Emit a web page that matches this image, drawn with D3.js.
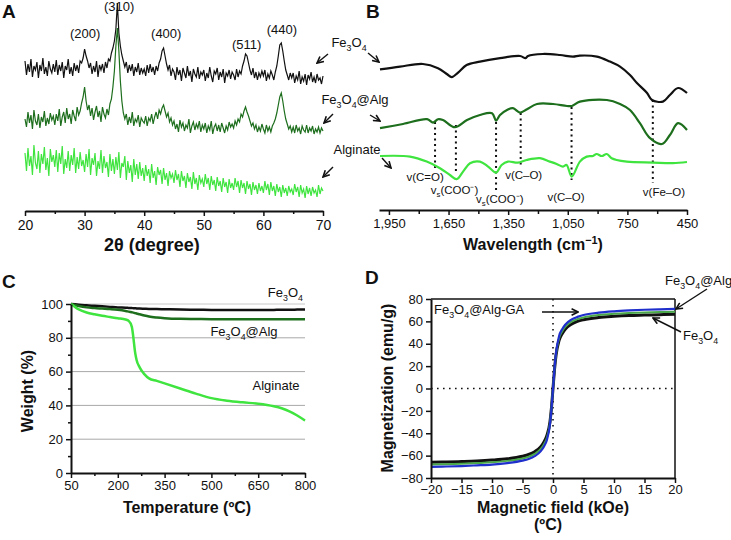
<!DOCTYPE html>
<html><head><meta charset="utf-8">
<script src="https://cdn.jsdelivr.net/npm/d3@7"></script>
<style>body{margin:0;background:#fff} svg{display:block} text{font-family:"Liberation Sans",Arial,sans-serif;fill:#111}</style>
</head><body><svg id="c" width="731" height="540"></svg>
<script>
// ---------------- DATA ----------------
// Panel A: XRD, 2θ from 20 to 70 in 0.25° steps
const xrdStart = 20, xrdStep = 0.25;
const xrdFe3O4 = [
150,136,147,139,152,134,145,141,149,133,146,140,153,137,144,135,150,142,138,147,
139,151,136,146,140,149,133,145,141,152,137,144,135,148,140,146,138,150,148,153,
162,155,150,143,148,137,145,139,150,134,146,141,147,138,149,143,152,150,158,163,
170,182,208,178,165,156,150,144,149,138,146,140,147,135,144,139,148,136,143,138,
142,135,146,138,147,139,144,136,145,140,148,152,160,163,155,147,141,146,135,142,
139,131,144,136,141,130,143,138,133,145,135,140,129,142,137,134,144,132,139,136,
141,130,138,133,144,135,129,140,137,143,131,139,134,142,128,138,135,141,132,139,
136,131,142,134,140,137,145,150,157,155,148,141,136,143,133,139,131,138,134,140,
135,141,130,137,133,140,136,131,139,145,155,166,168,160,150,141,136,131,138,133,
138,128,135,131,140,127,134,130,137,126,136,132,139,129,134,128,137,131,133,127,135];
const xrdFe3O4Alg = [
92,84,99,88,96,82,101,90,86,97,83,94,89,100,85,93,87,98,91,95,
86,97,90,102,85,94,99,88,103,92,97,87,101,95,90,104,96,100,108,114,
124,110,101,106,95,103,91,99,105,94,100,89,104,97,93,102,96,107,112,124,
140,165,183,160,130,110,98,92,97,86,94,88,99,85,92,89,96,84,93,90,
88,95,85,93,90,97,87,94,99,92,101,97,103,106,100,94,98,89,93,86,
90,82,87,79,91,84,88,80,86,83,92,78,85,89,81,87,83,90,79,86,
82,88,78,85,81,90,77,84,87,80,86,79,88,83,78,85,81,89,84,87,
83,90,86,92,89,97,94,100,104,99,95,90,85,88,82,86,79,84,80,87,
82,78,86,80,84,79,85,88,92,98,106,114,118,110,100,92,87,82,85,79,
84,78,86,80,83,77,85,81,79,86,78,83,80,85,77,82,79,84,78,83,80];
const xrdAlginate = [
58,40,63,45,55,36,66,48,42,60,38,57,47,64,41,53,35,62,49,56,
44,61,39,58,47,65,37,52,43,60,40,56,46,63,38,54,42,59,45,51,
39,57,44,62,36,53,46,58,35,50,42,61,38,55,43,49,34,57,40,52,
37,54,41,59,33,48,44,55,31,50,38,46,29,52,36,47,32,49,35,43,
30,46,35,42,28,47,33,40,26,44,36,41,27,43,31,38,25,40,33,37,
28,41,31,37,24,40,30,35,23,38,29,34,22,39,27,33,21,36,28,32,
24,37,27,33,21,35,26,31,20,34,25,30,19,33,24,29,18,32,23,28,
21,33,24,30,18,31,23,28,17,30,22,27,16,29,21,26,17,28,20,25,
18,30,21,27,16,29,20,25,15,27,19,24,14,26,18,23,15,25,19,22,
16,27,19,24,14,26,18,22,13,25,17,23,15,24,18,21,14,26,17,23,20];
const xrdTicks = [20,30,40,50,60,70];
const xrdPeakLabels = ["(200)","(310)","(400)","(511)","(440)"];
const xrdPeakTheta = [30.1,35.8,43.7,57.2,63.1];
const xrdPeakLevel = [173,200,173,162,177];

// Panel B: FT-IR (wavenumber cm-1, relative transmittance a.u.)
const irFe3O4Wn = [1995,1894,1779,1703,1659,1634,1602,1559,1492,1391,1290,1262,1250,1175,1089,1024,989,903,838,787,737,702,651,626,571,536,495,450];
const irFe3O4T  = [80.3,81.7,83,80.9,78,76.4,78.7,82.5,84.2,85.9,87,85.9,87,88,87.5,86.7,87.2,86.7,84.2,81.7,77.5,73.5,68.5,65,64.2,67.5,71,68.5];
const irAlgWn = [1995,1879,1758,1728,1703,1678,1618,1557,1492,1431,1411,1391,1356,1326,1290,1255,1205,1124,1054,1029,989,853,787,737,687,636,576,536,495,450];
const irAlgT  = [50.9,53,55.4,53.7,55.4,55,51.4,55,57.5,58.4,54.7,57.5,60,60.9,58.7,60.4,63,63,62,62,64.2,65,63,60,53.4,45.9,43,47.5,53.4,50];
const irAlginateWn = [1995,1844,1760,1693,1643,1609,1577,1542,1492,1451,1411,1383,1351,1301,1257,1190,1140,1106,1074,1056,1030,989,955,923,905,879,854,829,804,753,621,521,450];
const irAlginateT  = [37,36.7,34.2,30.9,27.5,25.4,29.2,33.4,34.2,31.7,28.7,32.5,34.2,33.7,35,35.9,34.2,33,31.7,32.5,26.7,34.2,36.7,37,38,37,38,35.9,35,34.2,33.7,33.4,34];
const irTicks = [1950,1650,1350,1050,750,450];
const irMinorTicks = [1800,1500,1200,900,600];
const irBandWn = [1718,1613,1411,1287,1031,622];
const irBandTop = [54,52.5,54,58.5,61.5,65];
const irBandBottom = [30,28.5,20,32.5,25,23.5];
const irBandLabels = [["v","","(C=O)"],["v","s","(COO⁻)"],["v","s","(COO⁻)"],["v","","(C–O)"],["v","","(C–O)"],["v","","(Fe–O)"]];
const irLabelWn = [1768,1620,1392,1272,1059,566];
const irLabelT = [24.5,18,13.5,25.5,14.5,17];

// Panel C: TGA
const tgaTemp = [50,75,100,125,150,175,200,225,235,245,250,255,260,270,285,300,325,350,400,450,500,550,600,650,700,725,750,775,800];
const tgaFe3O4 = [100,99.6,99.2,98.9,98.6,98.3,98,97.8,97.7,97.6,97.5,97.5,97.4,97.3,97.2,97.1,97,96.9,96.7,96.6,96.5,96.4,96.4,96.4,96.5,96.6,96.6,96.7,96.8];
const tgaFe3O4Alg = [100,98.8,98,97.6,97.3,97,96.6,95.9,95.5,95.1,94.9,94.6,94.4,93.9,93.2,92.6,92,91.6,91.2,91.1,91,91,91,91,91,91,91,91,91];
const tgaAlginate = [100,96.8,95,93.9,93,92.3,91.6,90.8,90,86.5,80,72,67,62.5,58.5,56,54.5,53,50,47,44.3,42.8,41.8,41,39.5,38.3,36.5,34,31];
const tgaXTicks = [50,200,350,500,650,800];
const tgaYTicks = [0,20,40,60,80,100];

// Panel D: VSM
const vsmField = [-20,-17.5,-15,-12.5,-10,-7.5,-5,-4,-3,-2,-1.5,-1,-0.5,-0.25,0,0.25,0.5,1,1.5,2,3,4,5,7.5,10,12.5,15,17.5,20];
const vsmFe3O4 = [-66,-65.7,-65.3,-64.8,-64,-62.8,-60.5,-59,-56.5,-52,-48,-42,-30,-17,0,17,30,43,49,53,57.5,60,61.5,63.5,64.5,65.2,65.6,66,66.3];
const vsmFe3O4Alg = [-68,-67.7,-67.3,-66.7,-66,-64.7,-62.5,-61,-58.5,-54,-50,-44,-31,-17.5,0,17.5,31,45,51,55,59.5,62,63.5,65.7,66.8,67.5,68,68.3,68.6];
const vsmFe3O4AlgGA = [-70,-69.7,-69.3,-68.7,-68,-66.7,-64.5,-63,-60.5,-56,-52,-46,-32,-18,0,18,32,47,53,57,61.5,64,65.7,67.8,69,69.8,70.4,70.8,71.2];
const vsmXTicks = [-20,-15,-10,-5,0,5,10,15,20];
const vsmYTicks = [-80,-60,-40,-20,0,20,40,60,80];

// ---------------- DRAW ----------------
const BLACK = "#111", DKGREEN = "#1d6e1d", LTGREEN = "#3fe43f", MDGREEN = "#4aa84a", BLUE = "#1f2fcc";
const svg = d3.select("#c");
const FONT = '"Liberation Sans",Arial,sans-serif';

const defs = svg.append("defs");
defs.append("marker").attr("id","arr").attr("viewBox","0 0 10 10").attr("refX",9).attr("refY",5)
  .attr("markerWidth",8).attr("markerHeight",8).attr("orient","auto").attr("markerUnits","userSpaceOnUse")
  .append("path").attr("d","M1,1 L9,5 L1,9").attr("fill","none").attr("stroke","#111").attr("stroke-width",2);

function rich(g, parts, x, y, fs, anchor, weight){
  const t = g.append("text").attr("x",x).attr("y",y).attr("font-size",fs).attr("text-anchor",anchor||"start")
    .attr("font-weight",weight||"normal");
  let reset = 0;
  parts.forEach(p=>{
    if(!p.t) return;
    const s = t.append("tspan").text(p.t);
    if(p.sub){ s.attr("font-size",fs*0.68).attr("dy",fs*0.3); reset = -fs*0.3; }
    else if(p.sup){ s.attr("font-size",fs*0.68).attr("dy",-fs*0.38); reset = fs*0.38; }
    else if(reset){ s.attr("dy",reset); reset = 0; }
  });
  return t;
}
function chem(str){
  const parts=[]; let buf="";
  for(let i=0;i<str.length;i++){
    const c=str[i];
    if(/\d/.test(c) && i>0 && /[A-Za-z]/.test(str[i-1])){ if(buf) parts.push({t:buf}); buf=""; parts.push({t:c,sub:true}); }
    else buf+=c;
  }
  if(buf) parts.push({t:buf});
  return parts;
}
function styleAxis(sel, fs){
  sel.select(".domain").attr("stroke","#111").attr("stroke-width",2);
  sel.selectAll(".tick line").attr("stroke","#111").attr("stroke-width",1.5);
  sel.selectAll(".tick text").attr("font-size",fs).attr("fill","#111").style("font-family",FONT);
}
function arrow(g,x1,y1,x2,y2){
  g.append("line").attr("x1",x1).attr("y1",y1).attr("x2",x2).attr("y2",y2)
   .attr("stroke","#111").attr("stroke-width",1.4).attr("marker-end","url(#arr)");
}
function panelLetter(l,x,y){ svg.append("text").attr("x",x).attr("y",y).attr("font-size",19).attr("font-weight","bold").text(l); }

// ---- Panel A ----
{
  const g = svg.append("g");
  const x = d3.scaleLinear().domain([20,70]).range([25,323]);
  const y = d3.scaleLinear().domain([0,210]).range([211,1]);
  const series = [[xrdFe3O4,BLACK],[xrdFe3O4Alg,DKGREEN],[xrdAlginate,LTGREEN]];
  series.forEach(([vals,col])=>{
    g.append("path").datum(vals)
      .attr("d", d3.line().x((d,i)=>x(xrdStart+i*xrdStep)).y(d=>y(d)))
      .attr("fill","none").attr("stroke",col).attr("stroke-width",1.2).attr("stroke-linejoin","miter");
  });
  const ax = g.append("g").attr("transform","translate(0,211)")
    .call(d3.axisBottom(x).tickValues(xrdTicks).tickSize(5).tickSizeOuter(0).tickPadding(4));
  styleAxis(ax,14);
  const axm = g.append("g").attr("transform","translate(0,211)")
    .call(d3.axisBottom(x).tickValues([25,35,45,55,65]).tickSize(3).tickFormat(""));
  axm.select(".domain").remove(); axm.selectAll(".tick line").attr("stroke","#111").attr("stroke-width",1.5);
  xrdPeakLabels.forEach((l,i)=>{
    g.append("text").attr("x",x(xrdPeakTheta[i])).attr("y",y(xrdPeakLevel[i])).attr("font-size",13)
      .attr("text-anchor","middle").text(l);
  });
  rich(g,[{t:"2θ (degree)"}],152,251,18,"middle","bold");
  panelLetter("A",2,18);
}

// ---- series labels between A and B ----
{
  const g = svg.append("g");
  rich(g,chem("Fe3O4"),349,47,13,"middle");
  rich(g,chem("Fe3O4@Alg"),355,104,13,"middle");
  rich(g,[{t:"Alginate"}],357,154,13,"middle");
  arrow(g,328,54,317,63); arrow(g,368,53,379,62);
  arrow(g,333,114,324,123); arrow(g,370,115,380,121);
  arrow(g,333,167,323,177); arrow(g,382,158,391,168);
}

// ---- Panel B ----
{
  const g = svg.append("g");
  const x = d3.scaleLinear().domain([2000,450]).range([379,687]);
  const y = d3.scaleLinear().domain([0,100]).range([230,30]);
  const line = d3.line().x(d=>x(d[0])).y(d=>y(d[1])).curve(d3.curveCatmullRom.alpha(0.5));
  irBandWn.forEach((wn,i)=>{
    g.append("line").attr("x1",x(wn)).attr("x2",x(wn)).attr("y1",y(irBandTop[i])).attr("y2",y(irBandBottom[i]))
      .attr("stroke","#111").attr("stroke-width",2).attr("stroke-dasharray","2,3.5");
  });
  const series = [[irFe3O4Wn,irFe3O4T,BLACK],[irAlgWn,irAlgT,DKGREEN],[irAlginateWn,irAlginateT,LTGREEN]];
  series.forEach(([wn,t,col])=>{
    g.append("path").datum(wn.map((w,i)=>[w,t[i]])).attr("d",line)
      .attr("fill","none").attr("stroke",col).attr("stroke-width",2.2);
  });
  irBandLabels.forEach((p,i)=>{
    rich(g,[{t:p[0]},{t:p[1],sub:true},{t:p[2]}],x(irLabelWn[i]),y(irLabelT[i]),11.5,"middle");
  });
  const ax = g.append("g").attr("transform","translate(0,210)")
    .call(d3.axisBottom(x).tickValues(irTicks).tickFormat(d3.format(",")).tickSize(5).tickSizeOuter(0).tickPadding(4));
  styleAxis(ax,13);
  const axm = g.append("g").attr("transform","translate(0,210)")
    .call(d3.axisBottom(x).tickValues(irMinorTicks).tickSize(4).tickFormat(""));
  axm.select(".domain").remove(); axm.selectAll(".tick line").attr("stroke","#111").attr("stroke-width",1.5);
  rich(g,[{t:"Wavelength (cm"},{t:"−1",sup:true},{t:")"}],533,250,16,"middle","bold");
  panelLetter("B",366,18);
}

// ---- Panel C ----
{
  const g = svg.append("g");
  const x = d3.scaleLinear().domain([50,800]).range([71,305]);
  const y = d3.scaleLinear().domain([0,100]).range([473,304]);
  tgaYTicks.filter(v=>v>0).forEach(v=>{
    g.append("line").attr("x1",x(50)).attr("x2",x(800)).attr("y1",y(v)).attr("y2",y(v))
     .attr("stroke", v===100 ? "#c8c8c8" : "#a8a8a8").attr("stroke-width",1);
  });
  const line = d3.line().x((d,i)=>x(tgaTemp[i])).y(d=>y(d)).curve(d3.curveMonotoneX);
  [[tgaFe3O4,BLACK],[tgaFe3O4Alg,DKGREEN],[tgaAlginate,LTGREEN]].forEach(([vals,col])=>{
    g.append("path").datum(vals).attr("d",line).attr("fill","none").attr("stroke",col).attr("stroke-width",2.5);
  });
  const ay = g.append("g").attr("transform","translate(71,0)")
    .call(d3.axisLeft(y).tickValues(tgaYTicks).tickSize(5).tickSizeOuter(0).tickPadding(3));
  styleAxis(ay,13);
  const aym = g.append("g").attr("transform","translate(71,0)")
    .call(d3.axisLeft(y).tickValues([10,30,50,70,90]).tickSize(3).tickFormat(""));
  aym.select(".domain").remove(); aym.selectAll(".tick line").attr("stroke","#111").attr("stroke-width",1.5);
  const ax = g.append("g").attr("transform","translate(0,473)")
    .call(d3.axisBottom(x).tickValues(tgaXTicks).tickSize(5).tickSizeOuter(0).tickPadding(3));
  styleAxis(ax,13);
  const axm = g.append("g").attr("transform","translate(0,473)")
    .call(d3.axisBottom(x).tickValues([125,275,425,575,725]).tickSize(3).tickFormat(""));
  axm.select(".domain").remove(); axm.selectAll(".tick line").attr("stroke","#111").attr("stroke-width",1.5);
  rich(g,chem("Fe3O4"),303,297,13,"end");
  rich(g,chem("Fe3O4@Alg"),244,336,13,"middle");
  rich(g,[{t:"Alginate"}],276,390,13,"middle");
  rich(g,[{t:"Temperature (ºC)"}],187,513,16,"middle","bold");
  rich(g,[{t:"Weight (%)"}],0,0,16,"middle","bold").attr("transform","translate(33,391) rotate(-90)");
  panelLetter("C",2,288);
}

// ---- Panel D ----
{
  const g = svg.append("g");
  const x = d3.scaleLinear().domain([-20,20]).range([431,675]);
  const y = d3.scaleLinear().domain([-80,80]).range([478,299]);
  g.append("line").attr("x1",x(-20)).attr("x2",x(20)).attr("y1",y(80)).attr("y2",y(80)).attr("stroke","#111").attr("stroke-width",1.5);
  g.append("line").attr("x1",x(20)).attr("x2",x(20)).attr("y1",y(80)).attr("y2",y(-80)).attr("stroke","#111").attr("stroke-width",1.5);
  g.append("line").attr("x1",x(-20)).attr("x2",x(20)).attr("y1",y(0)).attr("y2",y(0)).attr("stroke","#111").attr("stroke-width",1.6).attr("stroke-dasharray","1.6,4.4");
  g.append("line").attr("x1",x(0)).attr("x2",x(0)).attr("y1",y(80)).attr("y2",y(-80)).attr("stroke","#111").attr("stroke-width",1.6).attr("stroke-dasharray","1.6,4.4");
  const line = d3.line().x((d,i)=>x(vsmField[i])).y(d=>y(d)).curve(d3.curveMonotoneX);
  [[vsmFe3O4,BLACK,3],[vsmFe3O4Alg,MDGREEN,2],[vsmFe3O4AlgGA,BLUE,2.2]].forEach(([vals,col,w])=>{
    g.append("path").datum(vals).attr("d",line).attr("fill","none").attr("stroke",col).attr("stroke-width",w);
  });
  const ay = g.append("g").attr("transform","translate(431,0)")
    .call(d3.axisLeft(y).tickValues(vsmYTicks).tickSize(5).tickSizeOuter(0).tickPadding(3));
  styleAxis(ay,13);
  const ax = g.append("g").attr("transform","translate(0,478)")
    .call(d3.axisBottom(x).tickValues(vsmXTicks).tickSize(5).tickSizeOuter(0).tickPadding(2));
  styleAxis(ax,13);
  rich(g,chem("Fe3O4@Alg-GA"),434,314,13,"start");
  arrow(g,542,312,578,312);
  rich(g,chem("Fe3O4@Alg"),665,285,13,"start");
  arrow(g,707,289,676,309);
  rich(g,chem("Fe3O4"),683,340,13,"start");
  arrow(g,681,332,653,318);
  rich(g,[{t:"Magnetic field (kOe)"}],553,513,16,"middle","bold");
  rich(g,[{t:"(ºC)"}],548,530,16,"middle","bold");
  rich(g,[{t:"Magnetization (emu/g)"}],0,0,16,"middle","bold").attr("transform","translate(393,388) rotate(-90)");
  panelLetter("D",365,284);
}
</script></body></html>
